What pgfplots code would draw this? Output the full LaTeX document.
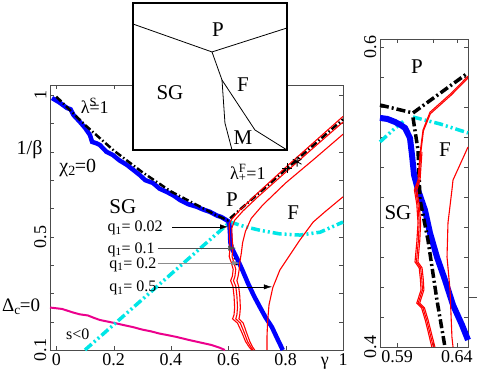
\documentclass[border=0pt]{standalone}
\usepackage{pgfplots}
\pgfplotsset{compat=1.18}
\usepackage{fontspec}
\setmainfont{Liberation Serif}
\usetikzlibrary{arrows.meta}

\definecolor{mcyan}{RGB}{0,230,230}
\tikzset{
  ddot/.style={dash pattern=on 7pt off 2.5pt on 1.5pt off 2.5pt},
  cdot/.style={dash pattern=on 9pt off 3pt on 2pt off 3pt on 2pt off 3pt},
}
\pgfplotsset{
  phase/.style={
    scale only axis, clip=false,
    axis line style={black!70},
    tick style={black!70}, major tick length=4pt, minor tick length=4pt,
    tick align=inside,
    /pgf/number format/assume math mode=true,
    ticklabel style={font=\fontsize{18}{18}\selectfont},
    yticklabel style={rotate=90, anchor=south},
  },
}

\begin{document}
\begin{tikzpicture}
\useasboundingbox (0,0) rectangle (479pt,372pt);

% ---- main panel ----
\begin{axis}[phase,
  at={(50pt,22pt)}, anchor=south west,
  width=293pt, height=265pt,
  xmin=-0.022, xmax=1, ymin=0.1, ymax=1.036,
  xtick={0,0.2,0.4,0.6,0.8,1},
  xticklabels={0,0.2,0.4,0.6,0.8,1},
  ytick={0.1,0.2,0.3,0.4,0.5,0.6,0.7,0.8,0.9,1.0},
  yticklabels={0.1,,,,0.5,,,,,1},
]
% s<0 boundary
\addplot[magenta, line width=2pt] coordinates {
(-0.022,0.25) (0.02,0.245) (0.06,0.232) (0.082,0.226) (0.11,0.222) (0.13,0.214)
(0.152,0.206) (0.2,0.196) (0.235,0.188) (0.267,0.181) (0.30,0.172) (0.33,0.166)
(0.36,0.158) (0.386,0.153) (0.42,0.146) (0.46,0.136) (0.50,0.127) (0.54,0.118)
(0.57,0.108) (0.588,0.1)};
% cyan
\addplot[mcyan, line width=3.5pt, cdot] coordinates {(0.10,0.1) (0.606,0.552)};
\addplot[mcyan, line width=3.5pt, cdot] coordinates {
(0.606,0.552) (0.66,0.535) (0.71,0.523) (0.78,0.51) (0.85,0.506) (0.92,0.516) (1.0,0.552)};
% black lower piece (under blue)
\addplot[black, line width=2.5pt, ddot] coordinates {
(0.603,0.553) (0.607,0.53) (0.609,0.498) (0.613,0.471) (0.619,0.438) (0.626,0.411) (0.63,0.4)};
% SG boundary
\addplot[blue, line width=4.5pt] coordinates {
(-0.015,0.99) (0.01,0.975) (0.037,0.955) (0.05,0.95) (0.06,0.93) (0.082,0.906)
(0.10,0.885) (0.117,0.86) (0.125,0.835) (0.14,0.83) (0.152,0.824) (0.175,0.80)
(0.197,0.789) (0.22,0.77) (0.246,0.754) (0.27,0.735) (0.291,0.718) (0.31,0.70)
(0.337,0.690) (0.36,0.67) (0.386,0.658) (0.41,0.645) (0.431,0.630) (0.46,0.615)
(0.490,0.606) (0.51,0.597) (0.536,0.588) (0.56,0.575) (0.575,0.57) (0.588,0.562)
(0.600,0.555) (0.604,0.54) (0.606,0.51) (0.607,0.48) (0.612,0.46) (0.622,0.44)
(0.633,0.418) (0.650,0.38) (0.668,0.337) (0.690,0.29) (0.710,0.252) (0.730,0.215)
(0.752,0.181) (0.771,0.14) (0.790,0.1)};
% lambda lines
\addplot[black, line width=2.5pt, ddot] coordinates {
(0,0.995) (0.1,0.895) (0.2,0.805) (0.3,0.728) (0.4,0.66) (0.5,0.607) (0.56,0.575)
(0.598,0.558) (1.0,0.915)};
% red curves
\addplot[red, line width=1.1pt] coordinates {
(1.0,0.925) (0.90,0.835) (0.80,0.745) (0.70,0.652) (0.64,0.594) (0.612,0.562)
(0.603,0.545) (0.604,0.50) (0.606,0.46) (0.603,0.43) (0.610,0.41) (0.617,0.385)
(0.614,0.36) (0.608,0.345) (0.616,0.325) (0.620,0.29) (0.622,0.25) (0.620,0.225)
(0.615,0.21) (0.632,0.195) (0.648,0.16) (0.66,0.13) (0.673,0.11) (0.682,0.1)};
\addplot[red, line width=1.1pt] coordinates {
(1.0,0.905) (0.90,0.817) (0.80,0.728) (0.70,0.638) (0.65,0.59) (0.622,0.558)
(0.612,0.53) (0.613,0.50) (0.616,0.46) (0.613,0.43) (0.619,0.41) (0.626,0.385)
(0.623,0.36) (0.618,0.345) (0.626,0.325) (0.630,0.29) (0.632,0.25) (0.630,0.225)
(0.626,0.21) (0.642,0.195) (0.656,0.16) (0.667,0.13) (0.679,0.11) (0.686,0.1)};
\addplot[red, line width=1.1pt] coordinates {
(1.0,0.862) (0.90,0.775) (0.80,0.69) (0.72,0.612) (0.68,0.565) (0.66,0.52)
(0.65,0.48) (0.645,0.44) (0.64,0.41) (0.638,0.385) (0.634,0.36) (0.63,0.345)
(0.636,0.325) (0.640,0.29) (0.642,0.25) (0.640,0.225) (0.637,0.21) (0.652,0.195)
(0.664,0.16) (0.675,0.13) (0.685,0.11) (0.692,0.1)};
\addplot[red, line width=1.1pt] coordinates {
(1.0,0.641) (0.937,0.588) (0.896,0.552) (0.85,0.489) (0.815,0.436) (0.780,0.383)
(0.755,0.32) (0.742,0.26) (0.737,0.2) (0.735,0.15) (0.735,0.1)};
% markers
\addplot[black, only marks, mark=asterisk, mark size=5pt, thick] coordinates {(0.84,0.765)};
\addplot[black, only marks, mark=+, mark size=5pt, thick] coordinates {(0.805,0.742)};

% arrows
\draw[black, thin, -{Latex[length=8pt,width=5pt]}] (axis cs:0.404,0.535) -- (axis cs:0.599,0.535);
\draw[black!70, thin, -{Latex[length=8pt,width=5pt]}] (axis cs:0.354,0.46) -- (axis cs:0.627,0.46);
\draw[black!45, thin, -{Latex[length=8pt,width=5pt]}] (axis cs:0.354,0.407) -- (axis cs:0.64,0.407);
\draw[black, thin, -{Latex[length=8pt,width=5pt]}] (axis cs:0.354,0.323) -- (axis cs:0.752,0.323);

\begin{scope}[font=\fontsize{16}{16}\selectfont]
\node[anchor=base east, inner sep=0pt] at ([yshift=-5pt]axis cs:0.372,0.535) {q\textsubscript{1}= 0.02};
\node[anchor=base east, inner sep=0pt] at ([yshift=-5pt]axis cs:0.344,0.46) {q\textsubscript{1}= 0.1};
\node[anchor=base east, inner sep=0pt] at ([yshift=-5pt]axis cs:0.35,0.407) {q\textsubscript{1}= 0.2};
\node[anchor=base east, inner sep=0pt] at ([yshift=-5pt]axis cs:0.35,0.323) {q\textsubscript{1}= 0.5};
\node at (axis cs:0.075,0.155) {s<0};
\end{scope}

\node[font=\fontsize{18}{18}\selectfont] at (axis cs:0.134,0.962) {λ\rlap{\textsuperscript{S}}=1};
\node[font=\fontsize{18}{18}\selectfont] at (axis cs:0.668,0.725) {λ\rlap{\textsuperscript{F}}\textsubscript{+}=1};
\node[font=\fontsize{20}{20}\selectfont] at (axis cs:0.075,0.743) {χ\textsubscript{2}\kern-1pt=0};
\node[font=\fontsize{21}{21}\selectfont] at (axis cs:0.232,0.605) {SG};
\node[font=\fontsize{21}{21}\selectfont] at (axis cs:0.613,0.630) {P};
\node[font=\fontsize{21}{21}\selectfont] at (axis cs:0.826,0.584) {F};

\node[font=\fontsize{20}{20}\selectfont, anchor=east] at ([xshift=-4pt]axis cs:-0.022,0.807) {1/β};
\node[font=\fontsize{19}{19}\selectfont, anchor=west, inner sep=0pt] at ([xshift=-48pt]axis cs:-0.022,0.252) {Δ\textsubscript{c}\kern-1pt=0};
\node[font=\fontsize{18}{18}\selectfont, anchor=north] at ([yshift=-4pt]axis cs:0.937,0.1) {γ};
\end{axis}

% ---- zoomed panel ----
\begin{axis}[phase,
  at={(380pt,25pt)}, anchor=south west,
  width=88pt, height=308pt,
  xmin=0.5758, xmax=0.6492, ymin=0.4, ymax=0.6053,
  xtick={0.59,0.64}, minor xtick={0.62},
  xticklabels={0.59,0.64},
  ytick={0.4,0.6}, yticklabels={0.4,0.6},
  minor ytick={0.42,0.44,0.46,0.48,0.50,0.52,0.54,0.56,0.58},
]
\addplot[mcyan, line width=3.5pt, cdot] coordinates {
(0.5758,0.5367) (0.5867,0.5447) (0.5967,0.5513)};
\addplot[mcyan, line width=3.5pt, cdot] coordinates {
(0.6033,0.5533) (0.6258,0.5487) (0.6492,0.5427)};
\addplot[blue, line width=6pt] coordinates {
(0.5758,0.5527) (0.582,0.552) (0.5883,0.55) (0.593,0.548) (0.5967,0.546)
(0.6008,0.5393) (0.6025,0.528) (0.6042,0.5147) (0.6075,0.5047) (0.6133,0.4913)
(0.6175,0.476) (0.6233,0.46) (0.63,0.4447) (0.6367,0.428) (0.6442,0.4147) (0.6492,0.4047)};
\addplot[black, line width=3.5pt, dash pattern=on 9pt off 3pt on 2pt off 3pt] coordinates {
(0.5758,0.5613) (0.6033,0.556) (0.6492,0.5827)};
\addplot[black, line width=3.5pt, dash pattern=on 9pt off 3pt on 2pt off 3pt] coordinates {
(0.6033,0.553) (0.6075,0.5313) (0.6092,0.498) (0.6158,0.4713) (0.6233,0.4313) (0.63,0.4)};
\addplot[red, line width=1.1pt] coordinates {
(0.6492,0.5805) (0.635,0.569) (0.6175,0.5565) (0.6117,0.5447) (0.6092,0.5293)
(0.6075,0.5113) (0.6045,0.5047) (0.6065,0.495) (0.6075,0.4827) (0.6065,0.47)
(0.605,0.4567) (0.6085,0.4527) (0.6095,0.445) (0.61,0.438) (0.6065,0.4293)
(0.6105,0.426) (0.6135,0.418) (0.616,0.41) (0.619,0.4)};
\addplot[red, line width=1.1pt] coordinates {
(0.6492,0.5792) (0.635,0.5678) (0.6178,0.5555) (0.612,0.544) (0.6098,0.5293)
(0.6083,0.5113) (0.6055,0.5047) (0.6075,0.495) (0.6085,0.4827) (0.6077,0.47)
(0.6062,0.4567) (0.6097,0.4527) (0.6107,0.445) (0.6112,0.438) (0.6077,0.4293)
(0.6117,0.426) (0.6147,0.418) (0.6172,0.41) (0.6203,0.4)};
\addplot[red, line width=1.1pt] coordinates {
(0.6108,0.53) (0.6092,0.5113) (0.6065,0.5047) (0.6085,0.495) (0.6097,0.4827)
(0.6089,0.47) (0.6074,0.4567) (0.6109,0.4527) (0.6119,0.445) (0.6124,0.438)
(0.6089,0.4293) (0.6129,0.426) (0.6159,0.418) (0.6184,0.41) (0.6216,0.4)};
\addplot[red, line width=1.1pt] coordinates {
(0.6492,0.5333) (0.6367,0.5113) (0.6358,0.5047) (0.6325,0.4827) (0.6317,0.46)
(0.6342,0.438) (0.6358,0.4067) (0.6367,0.4)};
\node[font=\fontsize{21}{21}\selectfont] at (axis cs:0.6067,0.5867) {P};
\node[font=\fontsize{21}{21}\selectfont] at (axis cs:0.6300,0.5313) {F};
\node[font=\fontsize{21}{21}\selectfont] at (axis cs:0.5908,0.4893) {SG};
\draw[black!70] (axis cs:0.6492,0.433) -- ([xshift=9pt]axis cs:0.6492,0.433);
\end{axis}

% ---- schematic inset ----
\begin{axis}[
  at={(133pt,222pt)}, anchor=south west, scale only axis,
  width=154pt, height=147pt,
  xmin=0, xmax=1, ymin=0, ymax=1,
  xtick=\empty, ytick=\empty,
  axis line style={black, line width=1.8pt},
  axis background/.style={fill=white},
]
\addplot[black, line width=0.8pt] coordinates {(0,0.857) (0.513,0.667) (1,0.83)};
\addplot[black, line width=0.8pt] coordinates {(0.513,0.667) (0.578,0.476) (0.597,0.184) (0.643,0)};
\addplot[black, line width=0.8pt] coordinates {(0.578,0.476) (0.792,0.136) (1,0.0)};
\node[font=\fontsize{21}{21}\selectfont] at (axis cs:0.552,0.816) {P};
\node[font=\fontsize{21}{21}\selectfont] at (axis cs:0.24,0.388) {SG};
\node[font=\fontsize{21}{21}\selectfont] at (axis cs:0.714,0.442) {F};
\node[font=\fontsize{21}{21}\selectfont] at (axis cs:0.714,0.082) {M};
\end{axis}
\end{tikzpicture}
\end{document}
